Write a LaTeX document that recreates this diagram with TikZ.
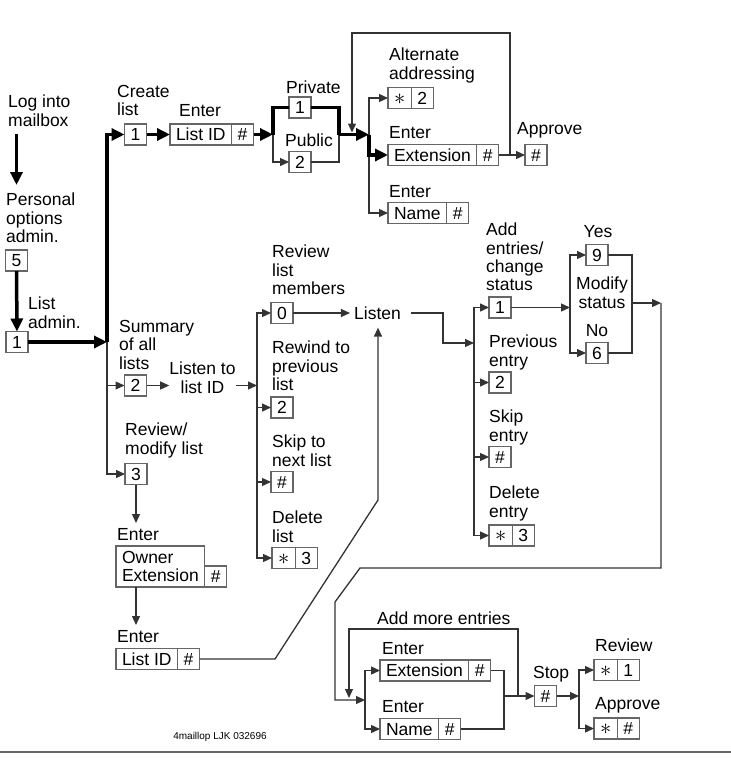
\documentclass[tikz,border=0pt]{standalone}
\usepackage{fontspec}
\setmainfont{Liberation Sans}
\usetikzlibrary{arrows.meta}
\newcommand\flowfont{\fontsize{17.5}{18.3}\selectfont}
\newcommand\starkey{\scalebox{1.3}{$\ast$}}
\begin{document}
\begin{tikzpicture}[x=1pt,y=-1pt,
    lbl/.style={font=\flowfont, align=left, inner sep=0pt, anchor=north west},
    keybox/.style={draw=black!60, line width=1.2pt, fill=white, outer sep=0pt, font=\flowfont,
                   inner xsep=6pt, inner ysep=0pt, minimum height=21pt},
    key/.style={keybox, minimum width=22pt, text height=12.6pt, text depth=0pt},
    wire/.style={draw=black!80, line width=1.3pt},
    wirearr/.style={wire, -{Triangle[length=9pt,width=8pt]}},
    heavy/.style={draw=black, line width=3.5pt},
    heavyarr/.style={heavy, -{Triangle[length=13pt,width=12pt]}}]
                \useasboundingbox (0,0) rectangle (731,758);
                %%% Entry column
                \node[lbl] (login) at (8,95) {Log into\\mailbox};
                \node[lbl] (pers) at (6,193) {Personal\\options\\admin.};
                \node[key] (k5) at (16.5,260.5) {5};
                \node[lbl] (ladm) at (28,297) {List\\admin.};
                \node[key] (kadm) at (17,342) {1};
                %%% Create list
                \node[lbl] (lcreate) at (117,85) {Create\\list};
                \node[key] (kcreate) at (135.5,134.5) {1};
                \node[lbl] (lenlid) at (179,104) {Enter};
                \node[key, anchor=west] (klid) at (170,134.5) {List ID};
                \node[key, anchor=west] (klidh) at (klid.east) {\#};
                \node[lbl] (lpriv) at (286,81) {Private};
                \node[key] (kpriv) at (300,107.5) {1};
                \node[lbl] (lpub) at (285,134) {Public};
                \node[key] (kpub) at (300,162) {2};
                \node[lbl] (lalt) at (389,48) {Alternate\\addressing};
                \node[key, anchor=west] (kalt) at (388,98) {\starkey};
                \node[key, anchor=west] (kalth) at (kalt.east) {2};
                \node[lbl] (lenext) at (389,126) {Enter};
                \node[key, anchor=west] (kext) at (388,155) {Extension};
                \node[key, anchor=west] (kexth) at (kext.east) {\#};
                \node[lbl] (lenname) at (389,185) {Enter};
                \node[key, anchor=west] (kname) at (388,213) {Name};
                \node[key, anchor=west] (knameh) at (kname.east) {\#};
                \node[lbl] (lappr) at (517,122) {Approve};
                \node[key] (kappr) at (536,155) {\#};
                %%% Summary and review
                \node[lbl] (lsum) at (119,320) {Summary\\of all\\lists};
                \node[key] (ksum) at (135.5,385.5) {2};
                \node[lbl, align=center, anchor=north] (listento) at (202.5,362) {Listen to\\list ID};
                \node[lbl] (lrevmod) at (125,423) {Review/\\modify list};
                \node[key] (krev) at (136,474) {3};
                \node[lbl] (lenown) at (117,528) {Enter};
                \node[keybox, align=left, minimum height=41pt, anchor=north west] (kown) at (116,546) {Owner\\Extension};
                \node[key, anchor=south west] (kownh) at (kown.south east) {\#};
                \node[lbl] (lenlid2) at (117,630) {Enter};
                \node[key, anchor=west] (klid2) at (116,659) {List ID};
                \node[key, anchor=west] (klid2h) at (klid2.east) {\#};
                \node[lbl] (lrevmem) at (272,245) {Review\\list\\members};
                \node[key] (k0) at (282,313) {0};
                \node[font=\flowfont, inner xsep=4pt, inner ysep=0pt] (listen) at (377.5,313) {Listen};
                \node[lbl] (lrew) at (272,341) {Rewind to\\previous\\list};
                \node[key] (krew) at (282,407.5) {2};
                \node[lbl] (lskip) at (272,435) {Skip to\\next list};
                \node[key] (kskip) at (282,482) {\#};
                \node[lbl] (ldel) at (272,511) {Delete\\list};
                \node[key, anchor=west] (kdel) at (272,558) {\starkey};
                \node[key, anchor=west] (kdelh) at (kdel.east) {3};
                %%% Entries
                \node[lbl] (ladd) at (486,223) {Add\\entries/\\change\\status};
                \node[key] (kadd) at (500,307.5) {1};
                \node[lbl] (lprev) at (489,335) {Previous\\entry};
                \node[key] (kprev) at (500,382.5) {2};
                \node[lbl] (lskipe) at (489,410) {Skip\\entry};
                \node[key] (kskipe) at (500,457) {\#};
                \node[lbl] (ldele) at (489,486) {Delete\\entry};
                \node[key, anchor=west] (kdele) at (489,535.5) {\starkey};
                \node[key, anchor=west] (kdeleh) at (kdele.east) {3};
                \node[lbl, anchor=north] (lyes) at (598,225) {Yes};
                \node[key] (k9) at (597,255) {9};
                \node[lbl, align=center, anchor=north] (lmod) at (602,277) {Modify\\status};
                \node[lbl, anchor=north] (lno) at (597,324) {No};
                \node[key] (k6) at (597,353) {6};
                %%% Add more entries
                \node[lbl] (lmore) at (377,612) {Add more entries};
                \node[lbl] (lenext2) at (382,642) {Enter};
                \node[key, anchor=west] (kext2) at (380,670.5) {Extension};
                \node[key, anchor=west] (kext2h) at (kext2.east) {\#};
                \node[lbl] (lenname2) at (382,700) {Enter};
                \node[key, anchor=west] (kname2) at (380,729) {Name};
                \node[key, anchor=west] (kname2h) at (kname2.east) {\#};
                \node[lbl] (lstop) at (533,666) {Stop};
                \node[key] (kstop) at (545.5,696) {\#};
                \node[lbl] (lrev2) at (595,639) {Review};
                \node[key, anchor=west] (kr1) at (594,670) {\starkey};
                \node[key, anchor=west] (kr1h) at (kr1.east) {1};
                \node[lbl] (lappr2) at (595,697) {Approve};
                \node[key, anchor=west] (kap2) at (594,728.5) {\starkey};
                \node[key, anchor=west] (kap2h) at (kap2.east) {\#};
                \node[font=\fontsize{10}{12}\selectfont, inner sep=0pt] (tag) at (220,737) {4maillop LJK 032696};
                %%% Junctions
                \coordinate (j1) at (107,342);
                \coordinate (j2) at (273,134.5);
                \coordinate (j2b) at (339,134.5);
                \coordinate (j3) at (369,134.5);
                \coordinate (jtop) at (352,132.5);
                \coordinate (jfb) at (510,155);
                \coordinate (jfbr) at (510,33);
                \coordinate (jfbl) at (352,33);
                \coordinate (j4) at (257,385.5);
                \coordinate (jl) at (443,313);
                \coordinate (j5) at (474,343);
                \coordinate (j6) at (570,307.5);
                \coordinate (j6b) at (632,303);
                \coordinate (j8) at (661,303);
                \coordinate (jr1) at (661,568);
                \coordinate (jr2) at (360,568);
                \coordinate (jr3) at (335,602);
                \coordinate (j7) at (365,700);
                \coordinate (j9) at (504,696);
                \coordinate (jm1) at (518,696);
                \coordinate (jm2) at (518,629);
                \coordinate (jm3) at (349,629);
                \coordinate (jm4) at (349,698);
                \coordinate (j10) at (579,696);
                \coordinate (jd1) at (275,659);
                \coordinate (jd2) at (378,500);
                %%% Thin connectors
                \draw[wirearr] (j1) |- (ksum);
                \draw[wirearr] (j1) |- (krev);
                \draw[wirearr] (j2) |- (kpub);
                \draw[wire] (kpub) -| (j2b);
                \draw[wirearr] (j3) |- (kalt);
                \draw[wirearr] (j3) |- (kname);
                \draw[wirearr] (kexth) -- (kappr);
                \draw[wirearr] (jfb) -- (jfbr) -- (jfbl) -- (jtop);
                \draw[wirearr] (ksum) -- (ksum -| listento.west);
                \draw[wirearr] (ksum -| listento.east) -- (j4);
                \draw[wirearr] (j4) |- (k0);
                \draw[wirearr] (j4) |- (krew);
                \draw[wirearr] (j4) |- (kskip);
                \draw[wirearr] (j4) |- (kdel);
                \draw[wirearr, shorten >=5pt] (krev) -- (krev |- lenown.north);
                \draw[wirearr, shorten >=5pt] (kown.south -| krev) -- (krev |- lenlid2.north);
                \draw[wirearr] (k0) -- (listen);
                \draw[wirearr, shorten <=6pt] (listen) -- (jl) |- (j5);
                \draw[wirearr, shorten >=8pt] (klid2h) -- (jd1) -- (jd2) -- (jd2 |- listen.south);
                \draw[wirearr] (j5) |- (kadd);
                \draw[wirearr] (j5) |- (kprev);
                \draw[wirearr] (j5) |- (kskipe);
                \draw[wirearr] (j5) |- (kdele);
                \draw[wirearr] (kadd) -- (j6);
                \draw[wirearr] (j6) |- (k9);
                \draw[wirearr] (j6) |- (k6);
                \draw[wire] (k9) -| (j6b) |- (k6);
                \draw[wirearr] (j6b) -- (j8);
                \draw[wirearr] (j8) -- (jr1) -- (jr2) -- (jr3) |- (j7);
                \draw[wirearr] (j7) |- (kext2);
                \draw[wirearr] (j7) |- (kname2);
                \draw[wire] (kext2h) -| (j9);
                \draw[wire] (kname2h) -| (j9);
                \draw[wirearr] (j9) -- (kstop);
                \draw[wirearr] (jm1) -- (jm2) -- (jm3) -- (jm4);
                \draw[wirearr] (kstop) -- (j10);
                \draw[wirearr] (j10) |- (kr1);
                \draw[wirearr] (j10) |- (kap2);
                %%% Heavy path
                \draw[heavyarr, shorten <=7pt, shorten >=8pt] (login.south -| k5) -- (pers.north -| k5);
                \draw[heavyarr] (k5) -- (kadm);
                \draw[heavyarr] (kadm) -- (j1);
                \draw[heavyarr] (j1) |- (kcreate);
                \draw[heavyarr] (kcreate) -- (klid);
                \draw[heavyarr] (klidh) -- (j2);
                \draw[heavy] (j2) |- (kpriv);
                \draw[heavy] (kpriv) -| (j2b);
                \draw[heavyarr] (j2b) -- (j3);
                \draw[heavyarr] (j3) |- (kext);
                %%% Rule at the foot
                \draw[draw=black!60, line width=1.5pt] (0,752) -- (731,752);
\end{tikzpicture}
\end{document}
